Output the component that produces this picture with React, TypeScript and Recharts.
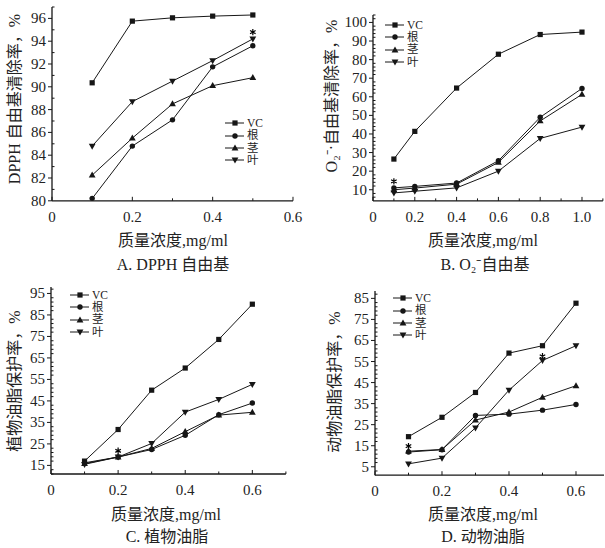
import React from 'react';
import { ComposedChart, Line, Scatter, XAxis, YAxis, Legend } from 'recharts';

const SERIF = "'Liberation Serif', 'Noto Sans CJK SC', serif";
const INK = '#161616';

const seriesNames = ['VC', '根', '茎', '叶'];
const markerKinds = ['square', 'circle', 'triangle', 'triangleDown'];

// A. DPPH 自由基
const concA = [0.1, 0.2, 0.3, 0.4, 0.5];
const vcA = [90.35, 95.76, 96.05, 96.2, 96.3];
const rootA = [80.2, 84.8, 87.1, 91.75, 93.6];
const stemA = [82.25, 85.5, 88.5, 90.1, 90.8];
const leafA = [84.8, 88.7, 90.5, 92.3, 94.2];
const starsA = [{ x: 0.5, y: 94.8 }];
const xMajorA = [0, 0.2, 0.4, 0.6];
const xMinorA = [0.1, 0.3, 0.5];
const yMajorA = [80, 82, 84, 86, 88, 90, 92, 94, 96];
const yMinorA = [81, 83, 85, 87, 89, 91, 93, 95, 97];

// B. O2- 自由基
const concB = [0.1, 0.2, 0.4, 0.6, 0.8, 1.0];
const vcB = [26.5, 41.4, 64.7, 82.9, 93.5, 94.8];
const rootB = [11.0, 11.8, 13.6, 25.6, 49, 64.5];
const stemB = [10.0, 10.9, 13.0, 24.7, 47, 61.3];
const leafB = [8.3, 9.2, 11.0, 20, 37.6, 43.7];
const starsB = [{ x: 0.1, y: 14.5 }];
const xMajorB = [0, 0.2, 0.4, 0.6, 0.8, 1.0];
const xMinorB = [0.1, 0.3, 0.5, 0.7, 0.9, 1.1];
const yMajorB = [10, 20, 30, 40, 50, 60, 70, 80, 90, 100];
const yMinorB = [6, 8, 12, 14, 16, 18, 22, 24, 26, 28, 32, 34, 36, 38, 42, 44, 46, 48, 52, 54, 56, 58, 62, 64, 66, 68, 72, 74, 76, 78, 82, 84, 86, 88, 92, 94, 96, 98, 102, 104];

// C. 植物油脂
const concC = [0.1, 0.2, 0.3, 0.4, 0.5, 0.6];
const vcC = [17, 31.7, 50, 60.3, 73.6, 90];
const rootC = [16.2, 18.9, 22.4, 29, 38.6, 44];
const stemC = [15.8, 18.9, 22.9, 30.7, 38.4, 39.7];
const leafC = [15.5, 18.9, 25.2, 39.8, 45.7, 52.7];
const starsC = [{ x: 0.2, y: 21.8 }];
const xMajorC = [0, 0.2, 0.4, 0.6];
const xMinorC = [0.1, 0.3, 0.5, 0.7];
const yMajorC = [15, 25, 35, 45, 55, 65, 75, 85, 95];
const yMinorC = [11, 13, 17, 19, 21, 23, 27, 29, 31, 33, 37, 39, 41, 43, 47, 49, 51, 53, 57, 59, 61, 63, 67, 69, 71, 73, 77, 79, 81, 83, 87, 89, 91, 93, 97];

// D. 动物油脂
const concD = [0.1, 0.2, 0.3, 0.4, 0.5, 0.6];
const vcD = [19.3, 28.5, 40.3, 59, 62.5, 82.7];
const rootD = [12, 13.1, 29.4, 30, 31.9, 34.6];
const stemD = [12.4, 13.2, 27.2, 31, 38, 43.5];
const leafD = [6.4, 9.1, 23.5, 41.4, 55.5, 62.5];
const starsD = [{ x: 0.1, y: 14.8 }, { x: 0.5, y: 57.5 }];
const xMajorD = [0, 0.2, 0.4, 0.6];
const xMinorD = [0.1, 0.3, 0.5];
const yMajorD = [5, 15, 25, 35, 45, 55, 65, 75, 85];
const yMinorD = [3, 7, 9, 11, 13, 17, 19, 21, 23, 27, 29, 31, 33, 37, 39, 41, 43, 47, 49, 51, 53, 57, 59, 61, 63, 67, 69, 71, 73, 77, 79, 81, 83, 87];

const toPts = (xs: number[], ys: number[]) => xs.map((x, i) => ({ x, y: ys[i] }));

const Marker = ({ cx, cy, kind }: { cx: number; cy: number; kind: string }) => {
  if (kind === 'square') return <rect x={cx - 2.6} y={cy - 2.6} width={5.2} height={5.2} fill={INK} />;
  if (kind === 'circle') return <circle cx={cx} cy={cy} r={2.7} fill={INK} />;
  if (kind === 'triangle')
    return <polygon points={`${cx},${cy - 3.6} ${cx - 3.4},${cy + 2.4} ${cx + 3.4},${cy + 2.4}`} fill={INK} />;
  return <polygon points={`${cx},${cy + 3.6} ${cx - 3.4},${cy - 2.4} ${cx + 3.4},${cy - 2.4}`} fill={INK} />;
};

const makeXTick = (majors: number[]) => (p: any) => {
  const v = p.payload.value;
  const major = majors.includes(v);
  return (
    <g key={`xt-${p.index}`}>
      <line x1={p.x} x2={p.x} y1={p.y} y2={p.y - (major ? 4 : 2.5)} stroke={INK} strokeWidth={1} />
      {major && (
        <text x={p.x} y={p.y + 21} textAnchor="middle" fontSize={15} fill="#222" fontFamily={SERIF}>
          {v === 0 ? '0' : v.toFixed(1)}
        </text>
      )}
    </g>
  );
};

const makeYTick = (majors: number[]) => (p: any) => {
  const v = p.payload.value;
  const major = majors.includes(v);
  return (
    <g key={`yt-${p.index}`}>
      {major ? (
        <line x1={p.x - 4} x2={p.x} y1={p.y} y2={p.y} stroke={INK} strokeWidth={1} />
      ) : (
        <line x1={p.x} x2={p.x + 2.5} y1={p.y} y2={p.y} stroke={INK} strokeWidth={1} />
      )}
      {major && (
        <text x={p.x - 6} y={p.y + 5} textAnchor="end" fontSize={15} fill="#222" fontFamily={SERIF}>
          {v}
        </text>
      )}
    </g>
  );
};

const renderLegend = () => (
  <div style={{ fontFamily: SERIF, fontSize: 11.5, color: '#222' }}>
    {seriesNames.map((n, i) => (
      <div key={n} style={{ display: 'flex', alignItems: 'center', height: 12.3 }}>
        <svg width={22} height={12} style={{ flex: 'none' }}>
          <line x1={0} x2={19} y1={6} y2={6} stroke={INK} strokeWidth={1} />
          <Marker cx={10} cy={6} kind={markerKinds[i]} />
        </svg>
        <span style={{ lineHeight: '11px', display: 'block' }}>{n}</span>
      </div>
    ))}
  </div>
);

// small asterisk mark drawn as strokes
const Star = (p: any) => {
  const { cx, cy } = p;
  const r = 3.2;
  const d = [0, 60, 120]
    .map((a) => {
      const t = (a * Math.PI) / 180;
      return `M${cx - r * Math.sin(t)},${cy - r * Math.cos(t)}L${cx + r * Math.sin(t)},${cy + r * Math.cos(t)}`;
    })
    .join('');
  return <path d={d} stroke="#000" strokeWidth={1.2} fill="none" />;
};

type PanelProps = {
  plot: { left: number; top: number; width: number; height: number };
  xDomain: [number, number];
  yDomain: [number, number];
  xMajor: number[];
  xMinor: number[];
  yMajor: number[];
  yMinor: number[];
  conc: number[];
  series: number[][];
  stars: { x: number; y: number }[];
  legendAt: { x: number; y: number };
};

const Panel = ({ plot, xDomain, yDomain, xMajor, xMinor, yMajor, yMinor, conc, series, stars, legendAt }: PanelProps) => {
  const left = plot.left - 50;
  const top = plot.top - 10;
  return (
    <div style={{ position: 'absolute', left, top }}>
      <ComposedChart
        width={plot.width + 60}
        height={plot.height + 40}
        margin={{ top: 10, right: 10, bottom: 0, left: 0 }}
      >
        <XAxis
          type="number"
          dataKey="x"
          domain={xDomain}
          allowDataOverflow
          ticks={[...xMajor, ...xMinor].sort((a, b) => a - b)}
          interval={0}
          height={30}
          tickSize={0}
          tickMargin={0}
          tickLine={false}
          tick={makeXTick(xMajor)}
          axisLine={{ stroke: INK, strokeWidth: 1.3 }}
        />
        <YAxis
          type="number"
          dataKey="y"
          domain={yDomain}
          allowDataOverflow
          ticks={[...yMajor, ...yMinor].sort((a, b) => a - b)}
          interval={0}
          width={50}
          tickSize={0}
          tickMargin={0}
          tickLine={false}
          tick={makeYTick(yMajor)}
          axisLine={{ stroke: INK, strokeWidth: 1.3 }}
        />
        <Legend
          layout="vertical"
          align="center"
          verticalAlign="middle"
          content={renderLegend}
          wrapperStyle={{ left: legendAt.x - left, top: legendAt.y - top, width: 60, height: 50 }}
        />
        {series.map((vals, i) => (
          <Line
            key={seriesNames[i]}
            name={seriesNames[i]}
            data={toPts(conc, vals)}
            dataKey="y"
            stroke={INK}
            strokeWidth={1}
            isAnimationActive={false}
            activeDot={false}
            dot={(d: any) => <Marker key={`${i}-${d.index}`} cx={d.cx} cy={d.cy} kind={markerKinds[i]} />}
          />
        ))}
        <Scatter data={stars} dataKey="y" shape={Star} isAnimationActive={false} legendType="none" />
      </ComposedChart>
    </div>
  );
};

const Txt = ({ x, y, size = 16, rotate = false, children }: any) => (
  <div
    style={{
      position: 'absolute',
      left: x,
      top: y,
      transform: `translate(-50%, -50%)${rotate ? ' rotate(-90deg)' : ''}`,
      whiteSpace: 'nowrap',
      fontFamily: SERIF,
      fontSize: size,
      color: '#222',
      lineHeight: 1,
    }}
  >
    {children}
  </div>
);

export default function App() {
  return (
    <div
      style={{
        position: 'absolute',
        left: 0,
        top: 0,
        width: 605,
        height: 548,
        overflow: 'hidden',
        background: '#fff',
      }}
    >
      <Panel
        plot={{ left: 52, top: 6.9, width: 241, height: 193.8 }}
        xDomain={[0, 0.6]}
        yDomain={[80, 97]}
        xMajor={xMajorA}
        xMinor={xMinorA}
        yMajor={yMajorA}
        yMinor={yMinorA}
        conc={concA}
        series={[vcA, rootA, stemA, leafA]}
        stars={starsA}
        legendAt={{ x: 225, y: 117.3 }}
      />
      <Panel
        plot={{ left: 372.7, top: 15.3, width: 229.9, height: 185.9 }}
        xDomain={[0, 1.1]}
        yDomain={[4, 104]}
        xMajor={xMajorB}
        xMinor={xMinorB}
        yMajor={yMajorB}
        yMinor={yMinorB}
        conc={concB}
        series={[vcB, rootB, stemB, leafB]}
        stars={starsB}
        legendAt={{ x: 385, y: 19 }}
      />
      <Panel
        plot={{ left: 51, top: 286.9, width: 234.9, height: 187 }}
        xDomain={[0, 0.7]}
        yDomain={[11, 98]}
        xMajor={xMajorC}
        xMinor={xMinorC}
        yMajor={yMajorC}
        yMinor={yMinorC}
        conc={concC}
        series={[vcC, rootC, stemC, leafC]}
        stars={starsC}
        legendAt={{ x: 70, y: 289 }}
      />
      <Panel
        plot={{ left: 375, top: 290.9, width: 229, height: 184.2 }}
        xDomain={[0, 0.6836]}
        yDomain={[1, 88.5]}
        xMajor={xMajorD}
        xMinor={xMinorD}
        yMajor={yMajorD}
        yMinor={yMinorD}
        conc={concD}
        series={[vcD, rootD, stemD, leafD]}
        stars={starsD}
        legendAt={{ x: 393, y: 292.3 }}
      />

      <Txt x={15} y={99} rotate>DPPH 自由基清除率，%</Txt>
      <Txt x={173} y={241}>质量浓度,mg/ml</Txt>
      <Txt x={173} y={265}>A. DPPH 自由基</Txt>

      <Txt x={332} y={96} rotate>O₂⁻·自由基清除率，%</Txt>
      <Txt x={483} y={241}>质量浓度,mg/ml</Txt>
      <Txt x={485} y={265}>B. O₂⁻自由基</Txt>

      <Txt x={15} y={381} rotate>植物油脂保护率，%</Txt>
      <Txt x={166} y={515}>质量浓度,mg/ml</Txt>
      <Txt x={167} y={537}>C. 植物油脂</Txt>

      <Txt x={335} y={382} rotate>动物油脂保护率，%</Txt>
      <Txt x={483} y={515}>质量浓度,mg/ml</Txt>
      <Txt x={483} y={537}>D. 动物油脂</Txt>
    </div>
  );
}
